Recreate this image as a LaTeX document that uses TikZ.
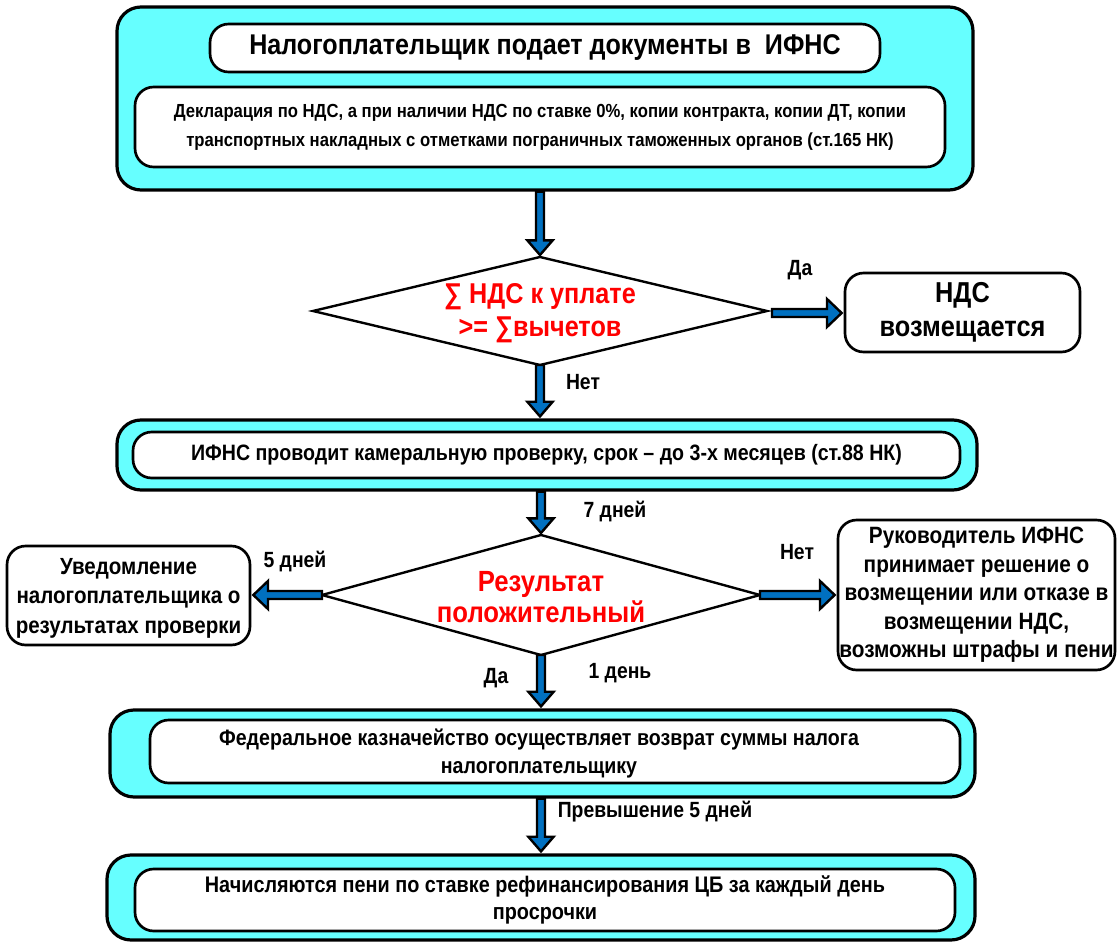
\documentclass[tikz,border=0pt]{standalone}
\usepackage{fontspec}
\setmainfont{Liberation Sans}[FakeStretch=0.88]
\usetikzlibrary{calc}
\definecolor{cyanbg}{HTML}{66FFFF}
\definecolor{arrblue}{HTML}{0070C0}
\tikzset{
  outerbox/.style={draw, line width=2.4pt, fill=cyanbg, rounded corners=18pt, inner sep=0pt},
  innerbox/.style={draw, line width=2pt, fill=white, rounded corners=14pt, align=center, inner sep=0pt},
  decisionline/.style={draw, line width=1.8pt, line join=miter},
  decisiontext/.style={align=center, inner sep=0pt, text=red},
  lbl/.style={font=\bfseries\fontsize{16.5}{19}\selectfont, inner sep=0pt},
  barrow/.style={draw=black, line width=1.8pt, fill=arrblue, line join=miter},
}
\newcommand\darrow[2]{\path[barrow] let \p1=(#1), \p2=(#2) in
  (\x1-3pt,\y1) -- (\x1-3pt,\y2+12.5pt) -- (\x1-9.5pt,\y2+12.5pt) -- (\x1,\y2+1.5pt)
  -- (\x1+9.5pt,\y2+12.5pt) -- (\x1+3pt,\y2+12.5pt) -- (\x1+3pt,\y1) -- cycle;}
\newcommand\rarrow[2]{\path[barrow] let \p1=(#1), \p2=(#2) in
  (\x1,\y1-3pt) -- (\x2-12.5pt,\y1-3pt) -- (\x2-12.5pt,\y1-10.5pt) -- (\x2-1.5pt,\y1)
  -- (\x2-12.5pt,\y1+10.5pt) -- (\x2-12.5pt,\y1+3pt) -- (\x1,\y1+3pt) -- cycle;}
\newcommand\larrow[2]{\path[barrow] let \p1=(#1), \p2=(#2) in
  (\x1,\y1-3pt) -- (\x2+12.5pt,\y1-3pt) -- (\x2+12.5pt,\y1-10.5pt) -- (\x2+1.5pt,\y1)
  -- (\x2+12.5pt,\y1+10.5pt) -- (\x2+12.5pt,\y1+3pt) -- (\x1,\y1+3pt) -- cycle;}
\begin{document}
\begin{tikzpicture}[x=0.75pt,y=-0.75pt]
\useasboundingbox (0,0) rectangle (1118,942);
% block 1
\node[outerbox, minimum width=642pt, minimum height=137.25pt] (B1) at (545,98.5) {};
\node[innerbox, minimum width=502.5pt, minimum height=36pt, font=\bfseries\fontsize{21.4}{25}\selectfont] (T1) at (545,48) {Налогоплательщик подает документы в\ \ ИФНС};
\node[innerbox, minimum width=607.5pt, minimum height=60pt, font=\bfseries\fontsize{14.2}{21.8}\selectfont] (T2) at (540,127) {Декларация по НДС, а при наличии НДС по ставке 0\%, копии контракта, копии ДТ, копии\\транспортных накладных с отметками пограничных таможенных органов (ст.165 НК)};
% decision 1
\coordinate (D1n) at (540,257);
\coordinate (D1s) at (540,365);
\coordinate (D1w) at (313,311);
\coordinate (D1e) at (767,311);
\draw[decisionline] (D1n) -- (D1e) -- (D1s) -- (D1w) -- cycle;
\node[decisiontext, font=\bfseries\fontsize{21.5}{25}\selectfont] (D1) at (540,313) {∑ НДС к уплате\\>= ∑вычетов};
\node[innerbox, minimum width=176.25pt, minimum height=59.25pt, font=\bfseries\fontsize{21.6}{25.5}\selectfont] (N1) at (962.5,312.5) {НДС\\возмещается};
% block 3
\node[outerbox, minimum width=645pt, minimum height=52.5pt] (B3) at (547,455) {};
\node[innerbox, minimum width=620.25pt, minimum height=34.5pt, font=\bfseries\fontsize{16.7}{19}\selectfont] (T3) at (546.5,455) {ИФНС проводит камеральную проверку, срок – до 3-х месяцев (ст.88 НК)};
% decision 2
\coordinate (D2n) at (541,535);
\coordinate (D2s) at (541,655);
\coordinate (D2w) at (322,595);
\coordinate (D2e) at (760,595);
\draw[decisionline] (D2n) -- (D2e) -- (D2s) -- (D2w) -- cycle;
\node[decisiontext, font=\bfseries\fontsize{21.9}{23.5}\selectfont] (D2) at (541,597) {Результат\\положительный};
\node[innerbox, minimum width=182.25pt, minimum height=74.25pt] (L2) at (128.5,595.5) {};
\node[align=center, inner sep=0pt, font=\bfseries\fontsize{17.5}{22.2}\selectfont] (L2t) at (128.5,598) {Уведомление\\налогоплательщика о\\результатах проверки};
\node[innerbox, minimum width=207.75pt, minimum height=112.5pt, font=\bfseries\fontsize{17.7}{21.4}\selectfont] (R2) at (976.5,595) {Руководитель ИФНС\\принимает решение о\\возмещении или отказе в\\возмещении НДС,\\возможны штрафы и пени};
% block 4
\node[outerbox, minimum width=648.75pt, minimum height=65.25pt] (B4) at (542.5,753.5) {};
\node[innerbox, minimum width=607.5pt, minimum height=47.25pt] (T4) at (555,751.5) {};
\node[align=center, inner sep=0pt, font=\bfseries\fontsize{16.7}{21}\selectfont] (T4t) at (539,754) {Федеральное казначейство осуществляет возврат суммы налога\\налогоплательщику};
% block 5
\node[outerbox, minimum width=651pt, minimum height=63.75pt] (B5) at (541,897.5) {};
\node[innerbox, minimum width=615pt, minimum height=46.5pt, font=\bfseries\fontsize{16.9}{20.25}\selectfont] (T5) at (545,900) {Начисляются пени по ставке рефинансирования ЦБ за каждый день\\просрочки};
% arrows
\darrow{D1n |- B1.south}{D1n}
\darrow{D1s}{D1s |- B3.north}
\darrow{D2n |- B3.south}{D2n}
\darrow{D2s}{D2s |- B4.north}
\darrow{D2s |- B4.south}{D2s |- B5.north}
\coordinate (h1) at ($(D1e)+(5,2)$);
\rarrow{h1}{N1.west |- h1}
\larrow{D2w}{L2.east |- D2w}
\rarrow{D2e}{R2.west |- D2e}
% labels
\node[lbl] (l1) at (800,270) {Да};
\node[lbl] (l2) at (583,382) {Нет};
\node[lbl] (l3) at (615,512) {7 дней};
\node[lbl] (l4) at (295,562) {5 дней};
\node[lbl] (l5) at (797,552) {Нет};
\node[lbl] (l6) at (496,678) {Да};
\node[lbl] (l7) at (620,673) {1 день};
\node[lbl] (l8) at (655,812) {Превышение 5 дней};
\end{tikzpicture}
\end{document}
